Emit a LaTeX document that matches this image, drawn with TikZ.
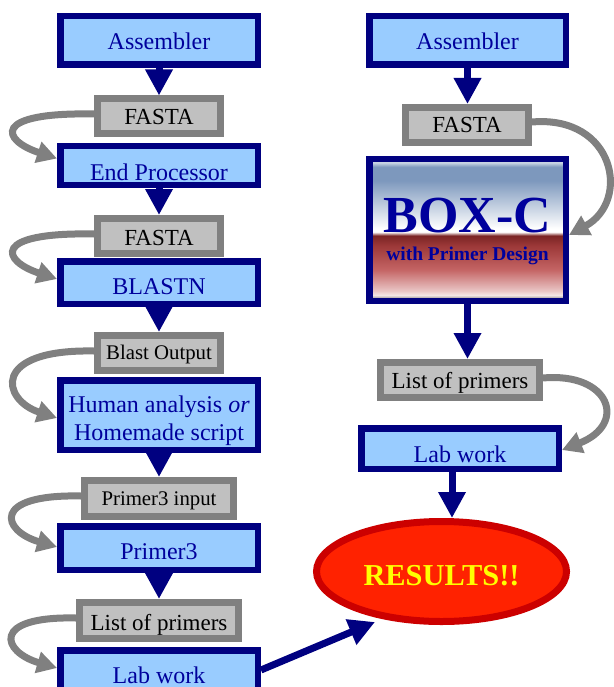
\documentclass[tikz,border=0pt]{standalone}
\usepackage{fontspec}
\setmainfont{Liberation Serif}
\usetikzlibrary{arrows.meta,shapes.geometric}
\definecolor{navyc}{HTML}{000080}
\definecolor{lightbl}{HTML}{99CCFF}
\definecolor{textbl}{HTML}{00009C}
\definecolor{silverc}{HTML}{C0C0C0}
\definecolor{grayc}{HTML}{808080}
\definecolor{resfill}{HTML}{FF2200}
\definecolor{resdraw}{HTML}{CC0000}
\definecolor{restext}{HTML}{FFFF00}
\definecolor{bxtop}{HTML}{C8D4E4}
\definecolor{bxblue}{HTML}{7D98BD}
\definecolor{bxred0}{HTML}{7A2424}
\definecolor{bxred1}{HTML}{9C3838}
\definecolor{bxred2}{HTML}{C46464}
\definecolor{bxpink}{HTML}{E9C5C5}
\definecolor{bxpinkl}{HTML}{F4E6E6}
\definecolor{bxbot}{HTML}{B8B0B0}
\pgfdeclareverticalshading{boxcshade}{100bp}{color(0bp)=(bxbot); color(26.2bp)=(bxbot); color(27bp)=(bxpinkl); color(28.5bp)=(bxpink); color(36bp)=(bxred2); color(44.5bp)=(bxred1); color(48bp)=(bxred0); color(49.3bp)=(white); color(50.5bp)=(white); color(67.5bp)=(bxblue); color(72.3bp)=(bxblue); color(73.8bp)=(bxtop); color(100bp)=(bxtop)}
\begin{document}
\begin{tikzpicture}[x=1pt,y=-1pt,
  bluebox/.style={draw=navyc, line width=6.5pt, outer sep=3.25pt, fill=lightbl, text=textbl,
    inner sep=0pt, font=\fontsize{24}{27.3}\selectfont, text depth=0pt},
  graybox/.style={draw=grayc, line width=7pt, outer sep=3.5pt, fill=silverc, text=black,
    inner sep=0pt, minimum width=123pt, minimum height=35pt, font=\fontsize{23}{26}\selectfont, text depth=0pt},
  smallgray/.style={graybox, font=\fontsize{20.8}{24}\selectfont},
  navyarrow/.style={draw=navyc, line width=7pt, -{Triangle[width=26pt,length=26pt]}},
  grayarrow/.style={draw=grayc, line width=7pt, -{Triangle[width=21pt,length=20pt]}},
  leftw/.style={minimum width=197.5pt},
  rightw/.style={minimum width=196.5pt}
]
\useasboundingbox (0,0) rectangle (613,687);
% left column
\node[bluebox, leftw, minimum height=48.5pt, text height=19pt] (asmL) at (159,40.5) {Assembler};
\node[graybox, text height=17pt] (fasta1) at (159,116.5) {FASTA};
\node[bluebox, leftw, minimum height=38.5pt, text height=29pt] (endp) at (159,165.5) {End Processor};
\node[graybox, text height=18pt] (fasta2) at (159,236) {FASTA};
\node[bluebox, leftw, minimum height=42.5pt, text height=23pt] (blastn) at (159,282.5) {BLASTN};
\node[smallgray, text height=12pt] (blastout) at (159,353) {Blast Output};
\node[bluebox, leftw, minimum height=69.5pt, align=center, text height=50pt] (human) at (159,415) {Human analysis \textit{or}\\Homemade script};
\node[smallgray, minimum width=149pt, minimum height=36pt, text height=13pt] (p3in) at (159,498.5) {Primer3 input};
\node[bluebox, leftw, minimum height=43.5pt, text height=22pt] (primer3) at (159,548) {Primer3};
\node[graybox, minimum width=159pt, minimum height=36pt, text height=19pt] (listL) at (159,620.5) {List of primers};
\node[bluebox, leftw, minimum height=39.5pt, text height=26pt] (labL) at (159,670) {Lab work};
% right column
\node[bluebox, rightw, minimum height=48.5pt, text height=19pt] (asmR) at (467.5,40.5) {Assembler};
\node[graybox, text height=16pt] (fastaR) at (467,125) {FASTA};
\node[bluebox, rightw, minimum height=141.5pt, text height=4pt,
  font=\fontsize{52}{52}\selectfont\bfseries,
  path picture={\shade[shading=boxcshade] (path picture bounding box.south west) rectangle (path picture bounding box.north east);}] (boxc) at (467.5,230) {BOX-C};
\node[anchor=base, text=textbl, inner sep=0pt, font=\fontsize{19.5}{22}\selectfont\bfseries] (boxcsub) at (467.5,260) {with Primer Design};
\node[graybox, minimum width=159pt, text height=16pt] (listR) at (460,380) {List of primers};
\node[bluebox, minimum width=197.5pt, minimum height=40.5pt, text height=27pt] (labR) at (460,448.5) {Lab work};
\node[ellipse, draw=resdraw, line width=7pt, outer sep=3.5pt, fill=resfill, text=restext, inner sep=0pt,
  minimum width=250pt, minimum height=100pt, text height=27pt, text depth=0pt,
  font=\fontsize{30.4}{34}\selectfont\bfseries] (results) at (441.5,571.5) {RESULTS!!};
\coordinate (rtip) at (375,622);
% navy arrows
\draw[navyarrow] (asmL) -- (fasta1);
\draw[navyarrow] (endp) -- (fasta2);
\draw[navyarrow] (blastn) -- (blastout);
\draw[navyarrow] (human) -- (p3in);
\draw[navyarrow] (primer3) -- (listL);
\draw[navyarrow] (asmR.south) -- (asmR.south |- fastaR.north);
\draw[navyarrow] (boxc.south) -- (boxc.south |- listR.north);
\draw[navyarrow] ([xshift=-8pt]labR.south) -- ([xshift=-8pt]labR.south |- results.north);
\draw[navyarrow] (labL.east) -- (rtip);
% gray curved arrows
\draw[grayarrow] ([yshift=2.5pt]fasta1.west) .. controls +(-104,-2) and +(-55,-18) .. ([yshift=7pt]endp.west);
\draw[grayarrow] ([yshift=2pt]fasta2.west) .. controls +(-104,-2) and +(-55,-18) .. ([yshift=3.5pt]blastn.west);
\draw[grayarrow] ([yshift=2pt]blastout.west) .. controls +(-104,-2) and +(-55,-18) .. ([yshift=-3pt]human.west);
\draw[grayarrow] ([yshift=2.5pt]p3in.west) .. controls +(-91,-2) and +(-55,-16) .. ([yshift=1pt]primer3.west);
\draw[grayarrow] ([yshift=2.5pt]listL.west) .. controls +(-86,-2) and +(-55,-16) .. ([yshift=2pt]labL.west);
\draw[grayarrow] ([yshift=3pt]fastaR.east) .. controls +(83,-7) and +(62,-34) .. ([yshift=-5pt]boxc.east);
\draw[grayarrow] ([yshift=2pt]listR.east) .. controls +(67,-6) and +(66,-26) .. ([yshift=-1.5pt]labR.east);
\end{tikzpicture}
\end{document}
